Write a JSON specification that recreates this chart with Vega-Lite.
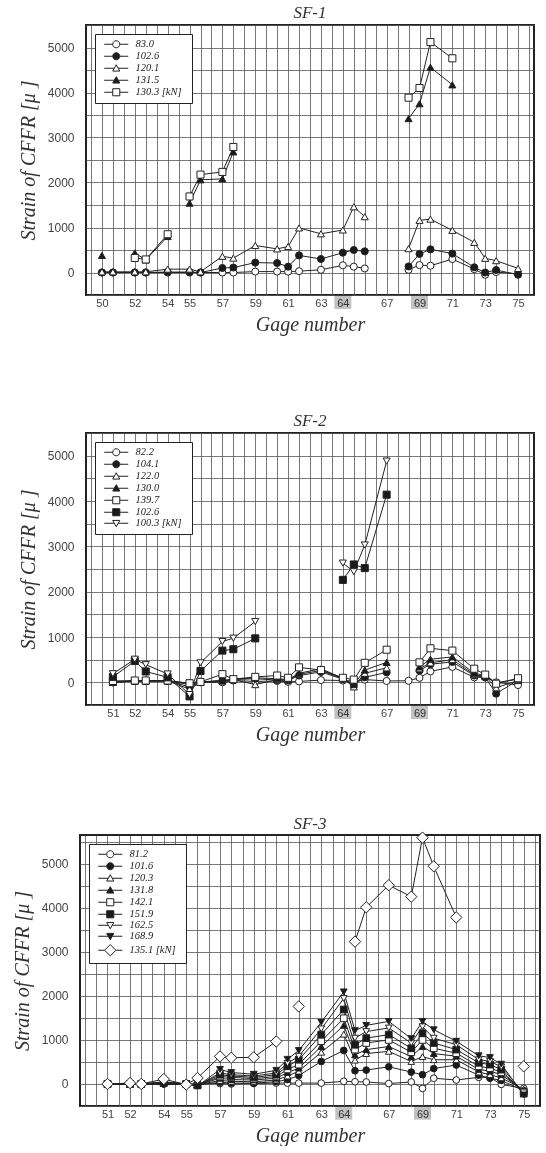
{
 "$schema": "https://vega.github.io/schema/vega-lite/v6.json",
 "background": "white",
 "padding": {"left": 11, "top": 3, "right": 0, "bottom": 0},
 "spacing": 76,
 "center": true,
 "resolve": {"scale": {"shape": "independent", "fill": "independent", "stroke": "independent", "strokeWidth": "independent"}},
 "datasets": {
  "sf1": [
   {"s":"83.0","i":0,"v":0,"g":1},{"s":"83.0","i":1,"v":0,"g":1},{"s":"83.0","i":3,"v":0,"g":1},{"s":"83.0","i":4,"v":0,"g":1},{"s":"83.0","i":6,"v":0,"g":1},{"s":"83.0","i":8,"v":0,"g":1},{"s":"83.0","i":9,"v":0,"g":1},{"s":"83.0","i":11,"v":0,"g":1},{"s":"83.0","i":12,"v":0,"g":1},{"s":"83.0","i":14,"v":20,"g":1},{"s":"83.0","i":16,"v":20,"g":1},{"s":"83.0","i":17,"v":20,"g":1},{"s":"83.0","i":18,"v":30,"g":1},{"s":"83.0","i":20,"v":60,"g":1},{"s":"83.0","i":22,"v":160,"g":1},{"s":"83.0","i":23,"v":130,"g":1},{"s":"83.0","i":24,"v":90,"g":1},
   {"s":"83.0","i":28,"v":60,"g":2},{"s":"83.0","i":29,"v":165,"g":2},{"s":"83.0","i":30,"v":150,"g":2},{"s":"83.0","i":32,"v":300,"g":2},{"s":"83.0","i":34,"v":75,"g":2},{"s":"83.0","i":35,"v":-50,"g":2},{"s":"83.0","i":36,"v":10,"g":2},{"s":"83.0","i":38,"v":-30,"g":2},
   {"s":"102.6","i":0,"v":0,"g":1},{"s":"102.6","i":1,"v":0,"g":1},{"s":"102.6","i":3,"v":0,"g":1},{"s":"102.6","i":4,"v":0,"g":1},{"s":"102.6","i":6,"v":10,"g":1},{"s":"102.6","i":8,"v":10,"g":1},{"s":"102.6","i":9,"v":0,"g":1},{"s":"102.6","i":11,"v":100,"g":1},{"s":"102.6","i":12,"v":110,"g":1},{"s":"102.6","i":14,"v":220,"g":1},{"s":"102.6","i":16,"v":210,"g":1},{"s":"102.6","i":17,"v":130,"g":1},{"s":"102.6","i":18,"v":380,"g":1},{"s":"102.6","i":20,"v":300,"g":1},{"s":"102.6","i":22,"v":440,"g":1},{"s":"102.6","i":23,"v":500,"g":1},{"s":"102.6","i":24,"v":470,"g":1},
   {"s":"102.6","i":28,"v":135,"g":2},{"s":"102.6","i":29,"v":413,"g":2},{"s":"102.6","i":30,"v":515,"g":2},{"s":"102.6","i":32,"v":420,"g":2},{"s":"102.6","i":34,"v":115,"g":2},{"s":"102.6","i":35,"v":0,"g":2},{"s":"102.6","i":36,"v":55,"g":2},{"s":"102.6","i":38,"v":-50,"g":2},
   {"s":"120.1","i":0,"v":15,"g":1},{"s":"120.1","i":1,"v":15,"g":1},{"s":"120.1","i":3,"v":15,"g":1},{"s":"120.1","i":4,"v":15,"g":1},{"s":"120.1","i":6,"v":75,"g":1},{"s":"120.1","i":8,"v":75,"g":1},{"s":"120.1","i":9,"v":15,"g":1},{"s":"120.1","i":11,"v":360,"g":1},{"s":"120.1","i":12,"v":320,"g":1},{"s":"120.1","i":14,"v":600,"g":1},{"s":"120.1","i":16,"v":525,"g":1},{"s":"120.1","i":17,"v":577,"g":1},{"s":"120.1","i":18,"v":990,"g":1},{"s":"120.1","i":20,"v":860,"g":1},{"s":"120.1","i":22,"v":945,"g":1},{"s":"120.1","i":23,"v":1460,"g":1},{"s":"120.1","i":24,"v":1240,"g":1},
   {"s":"120.1","i":28,"v":530,"g":2},{"s":"120.1","i":29,"v":1160,"g":2},{"s":"120.1","i":30,"v":1185,"g":2},{"s":"120.1","i":32,"v":937,"g":2},{"s":"120.1","i":34,"v":670,"g":2},{"s":"120.1","i":35,"v":315,"g":2},{"s":"120.1","i":36,"v":263,"g":2},{"s":"120.1","i":38,"v":90,"g":2},
   {"s":"131.5","i":0,"v":380,"g":1},
   {"s":"131.5","i":3,"v":435,"g":2},{"s":"131.5","i":4,"v":280,"g":2},{"s":"131.5","i":6,"v":800,"g":2},
   {"s":"131.5","i":8,"v":1540,"g":3},{"s":"131.5","i":9,"v":2060,"g":3},{"s":"131.5","i":11,"v":2080,"g":3},{"s":"131.5","i":12,"v":2680,"g":3},
   {"s":"131.5","i":28,"v":3420,"g":4},{"s":"131.5","i":29,"v":3750,"g":4},{"s":"131.5","i":30,"v":4560,"g":4},{"s":"131.5","i":32,"v":4170,"g":4},
   {"s":"130.3","i":3,"v":323,"g":2},{"s":"130.3","i":4,"v":290,"g":2},{"s":"130.3","i":6,"v":850,"g":2},
   {"s":"130.3","i":8,"v":1690,"g":3},{"s":"130.3","i":9,"v":2175,"g":3},{"s":"130.3","i":11,"v":2235,"g":3},{"s":"130.3","i":12,"v":2790,"g":3},
   {"s":"130.3","i":28,"v":3885,"g":4},{"s":"130.3","i":29,"v":4100,"g":4},{"s":"130.3","i":30,"v":5120,"g":4},{"s":"130.3","i":32,"v":4760,"g":4}
  ],
  "sf2": [
   {"s":"82.2","i":1,"v":0,"g":1},{"s":"82.2","i":3,"v":30,"g":1},{"s":"82.2","i":4,"v":30,"g":1},{"s":"82.2","i":6,"v":30,"g":1},{"s":"82.2","i":8,"v":-20,"g":1},{"s":"82.2","i":9,"v":0,"g":1},{"s":"82.2","i":11,"v":0,"g":1},{"s":"82.2","i":12,"v":40,"g":1},{"s":"82.2","i":14,"v":20,"g":1},{"s":"82.2","i":16,"v":30,"g":1},{"s":"82.2","i":17,"v":10,"g":1},{"s":"82.2","i":18,"v":20,"g":1},{"s":"82.2","i":20,"v":50,"g":1},{"s":"82.2","i":22,"v":40,"g":1},{"s":"82.2","i":23,"v":30,"g":1},{"s":"82.2","i":24,"v":60,"g":1},{"s":"82.2","i":26,"v":30,"g":1},{"s":"82.2","i":28,"v":35,"g":1},{"s":"82.2","i":29,"v":100,"g":1},{"s":"82.2","i":30,"v":240,"g":1},{"s":"82.2","i":32,"v":340,"g":1},{"s":"82.2","i":34,"v":110,"g":1},{"s":"82.2","i":35,"v":110,"g":1},{"s":"82.2","i":36,"v":0,"g":1},{"s":"82.2","i":38,"v":-60,"g":1},
   {"s":"104.1","i":1,"v":0,"g":1},{"s":"104.1","i":3,"v":30,"g":1},{"s":"104.1","i":4,"v":30,"g":1},{"s":"104.1","i":6,"v":30,"g":1},{"s":"104.1","i":8,"v":-100,"g":1},{"s":"104.1","i":9,"v":10,"g":1},{"s":"104.1","i":11,"v":40,"g":1},{"s":"104.1","i":12,"v":60,"g":1},{"s":"104.1","i":14,"v":80,"g":1},{"s":"104.1","i":16,"v":50,"g":1},{"s":"104.1","i":17,"v":40,"g":1},{"s":"104.1","i":18,"v":150,"g":1},{"s":"104.1","i":20,"v":230,"g":1},{"s":"104.1","i":22,"v":70,"g":1},{"s":"104.1","i":23,"v":-60,"g":1},{"s":"104.1","i":24,"v":110,"g":1},{"s":"104.1","i":26,"v":220,"g":1},
   {"s":"104.1","i":29,"v":260,"g":2},{"s":"104.1","i":30,"v":400,"g":2},{"s":"104.1","i":32,"v":450,"g":2},{"s":"104.1","i":34,"v":150,"g":2},{"s":"104.1","i":35,"v":110,"g":2},{"s":"104.1","i":36,"v":-250,"g":2},{"s":"104.1","i":38,"v":50,"g":2},
   {"s":"122.0","i":1,"v":0,"g":1},{"s":"122.0","i":3,"v":30,"g":1},{"s":"122.0","i":4,"v":30,"g":1},{"s":"122.0","i":6,"v":30,"g":1},{"s":"122.0","i":8,"v":-150,"g":1},{"s":"122.0","i":9,"v":0,"g":1},{"s":"122.0","i":11,"v":40,"g":1},{"s":"122.0","i":12,"v":60,"g":1},{"s":"122.0","i":14,"v":-50,"g":1},{"s":"122.0","i":16,"v":60,"g":1},{"s":"122.0","i":17,"v":50,"g":1},{"s":"122.0","i":18,"v":180,"g":1},{"s":"122.0","i":20,"v":260,"g":1},{"s":"122.0","i":22,"v":80,"g":1},{"s":"122.0","i":23,"v":-100,"g":1},{"s":"122.0","i":24,"v":200,"g":1},{"s":"122.0","i":26,"v":320,"g":1},
   {"s":"122.0","i":29,"v":300,"g":2},{"s":"122.0","i":30,"v":430,"g":2},{"s":"122.0","i":32,"v":500,"g":2},{"s":"122.0","i":34,"v":170,"g":2},{"s":"122.0","i":35,"v":130,"g":2},{"s":"122.0","i":36,"v":-120,"g":2},{"s":"122.0","i":38,"v":40,"g":2},
   {"s":"130.0","i":1,"v":0,"g":1},{"s":"130.0","i":3,"v":30,"g":1},{"s":"130.0","i":4,"v":30,"g":1},{"s":"130.0","i":6,"v":30,"g":1},{"s":"130.0","i":8,"v":-50,"g":1},{"s":"130.0","i":9,"v":10,"g":1},{"s":"130.0","i":11,"v":30,"g":1},{"s":"130.0","i":12,"v":70,"g":1},{"s":"130.0","i":14,"v":100,"g":1},{"s":"130.0","i":16,"v":80,"g":1},{"s":"130.0","i":17,"v":60,"g":1},{"s":"130.0","i":18,"v":200,"g":1},{"s":"130.0","i":20,"v":300,"g":1},{"s":"130.0","i":22,"v":90,"g":1},{"s":"130.0","i":23,"v":-50,"g":1},{"s":"130.0","i":24,"v":270,"g":1},{"s":"130.0","i":26,"v":440,"g":1},
   {"s":"130.0","i":29,"v":340,"g":2},{"s":"130.0","i":30,"v":510,"g":2},{"s":"130.0","i":32,"v":560,"g":2},{"s":"130.0","i":34,"v":200,"g":2},{"s":"130.0","i":35,"v":150,"g":2},{"s":"130.0","i":36,"v":-10,"g":2},{"s":"130.0","i":38,"v":70,"g":2},
   {"s":"139.7","i":1,"v":30,"g":1},{"s":"139.7","i":3,"v":40,"g":1},{"s":"139.7","i":4,"v":40,"g":1},{"s":"139.7","i":6,"v":40,"g":1},{"s":"139.7","i":8,"v":-20,"g":1},{"s":"139.7","i":9,"v":10,"g":1},{"s":"139.7","i":11,"v":180,"g":1},{"s":"139.7","i":12,"v":70,"g":1},{"s":"139.7","i":14,"v":120,"g":1},{"s":"139.7","i":16,"v":150,"g":1},{"s":"139.7","i":17,"v":100,"g":1},{"s":"139.7","i":18,"v":330,"g":1},{"s":"139.7","i":20,"v":270,"g":1},{"s":"139.7","i":22,"v":100,"g":1},{"s":"139.7","i":23,"v":60,"g":1},{"s":"139.7","i":24,"v":430,"g":1},{"s":"139.7","i":26,"v":720,"g":1},
   {"s":"139.7","i":29,"v":440,"g":2},{"s":"139.7","i":30,"v":750,"g":2},{"s":"139.7","i":32,"v":700,"g":2},{"s":"139.7","i":34,"v":300,"g":2},{"s":"139.7","i":35,"v":170,"g":2},{"s":"139.7","i":36,"v":-30,"g":2},{"s":"139.7","i":38,"v":90,"g":2},
   {"s":"102.6","i":1,"v":120,"g":1},{"s":"102.6","i":3,"v":470,"g":1},{"s":"102.6","i":4,"v":240,"g":1},{"s":"102.6","i":6,"v":110,"g":1},{"s":"102.6","i":8,"v":-310,"g":1},{"s":"102.6","i":9,"v":250,"g":1},{"s":"102.6","i":11,"v":700,"g":1},{"s":"102.6","i":12,"v":730,"g":1},{"s":"102.6","i":14,"v":970,"g":1},
   {"s":"102.6","i":22,"v":2260,"g":2},{"s":"102.6","i":23,"v":2600,"g":2},{"s":"102.6","i":24,"v":2520,"g":2},{"s":"102.6","i":26,"v":4140,"g":2},
   {"s":"100.3","i":1,"v":190,"g":1},{"s":"100.3","i":3,"v":510,"g":1},{"s":"100.3","i":4,"v":390,"g":1},{"s":"100.3","i":6,"v":185,"g":1},{"s":"100.3","i":8,"v":-270,"g":1},{"s":"100.3","i":9,"v":430,"g":1},{"s":"100.3","i":11,"v":900,"g":1},{"s":"100.3","i":12,"v":975,"g":1},{"s":"100.3","i":14,"v":1340,"g":1},
   {"s":"100.3","i":22,"v":2630,"g":2},{"s":"100.3","i":23,"v":2440,"g":2},{"s":"100.3","i":24,"v":3030,"g":2},{"s":"100.3","i":26,"v":4880,"g":2}
  ],
  "sf3": [
   {"s":"81.2","i":1,"v":0,"g":1},{"s":"81.2","i":3,"v":0,"g":1},{"s":"81.2","i":4,"v":0,"g":1},{"s":"81.2","i":6,"v":0,"g":1},{"s":"81.2","i":8,"v":0,"g":1},{"s":"81.2","i":9,"v":0,"g":1},{"s":"81.2","i":11,"v":10,"g":1},{"s":"81.2","i":12,"v":0,"g":1},{"s":"81.2","i":14,"v":10,"g":1},{"s":"81.2","i":16,"v":20,"g":1},{"s":"81.2","i":17,"v":20,"g":1},{"s":"81.2","i":18,"v":20,"g":1},{"s":"81.2","i":20,"v":20,"g":1},{"s":"81.2","i":22,"v":60,"g":1},{"s":"81.2","i":23,"v":50,"g":1},{"s":"81.2","i":24,"v":45,"g":1},{"s":"81.2","i":26,"v":10,"g":1},{"s":"81.2","i":28,"v":45,"g":1},{"s":"81.2","i":29,"v":-100,"g":1},{"s":"81.2","i":30,"v":130,"g":1},{"s":"81.2","i":32,"v":90,"g":1},{"s":"81.2","i":34,"v":150,"g":1},{"s":"81.2","i":35,"v":150,"g":1},{"s":"81.2","i":36,"v":-10,"g":1},{"s":"81.2","i":38,"v":-100,"g":1},
   {"s":"101.6","i":1,"v":0,"g":1},{"s":"101.6","i":3,"v":0,"g":1},{"s":"101.6","i":4,"v":0,"g":1},{"s":"101.6","i":6,"v":0,"g":1},{"s":"101.6","i":8,"v":0,"g":1},{"s":"101.6","i":9,"v":-20,"g":1},{"s":"101.6","i":11,"v":40,"g":1},{"s":"101.6","i":12,"v":20,"g":1},{"s":"101.6","i":14,"v":20,"g":1},{"s":"101.6","i":16,"v":50,"g":1},{"s":"101.6","i":17,"v":100,"g":1},{"s":"101.6","i":18,"v":190,"g":1},{"s":"101.6","i":20,"v":510,"g":1},{"s":"101.6","i":22,"v":760,"g":1},{"s":"101.6","i":23,"v":300,"g":1},{"s":"101.6","i":24,"v":315,"g":1},{"s":"101.6","i":26,"v":390,"g":1},{"s":"101.6","i":28,"v":270,"g":1},{"s":"101.6","i":29,"v":210,"g":1},{"s":"101.6","i":30,"v":350,"g":1},{"s":"101.6","i":32,"v":430,"g":1},{"s":"101.6","i":34,"v":200,"g":1},{"s":"101.6","i":35,"v":130,"g":1},{"s":"101.6","i":36,"v":80,"g":1},{"s":"101.6","i":38,"v":-150,"g":1},
   {"s":"120.3","i":1,"v":0,"g":1},{"s":"120.3","i":3,"v":0,"g":1},{"s":"120.3","i":4,"v":0,"g":1},{"s":"120.3","i":6,"v":10,"g":1},{"s":"120.3","i":8,"v":0,"g":1},{"s":"120.3","i":9,"v":-20,"g":1},{"s":"120.3","i":11,"v":80,"g":1},{"s":"120.3","i":12,"v":60,"g":1},{"s":"120.3","i":14,"v":50,"g":1},{"s":"120.3","i":16,"v":90,"g":1},{"s":"120.3","i":17,"v":180,"g":1},{"s":"120.3","i":18,"v":290,"g":1},{"s":"120.3","i":20,"v":720,"g":1},{"s":"120.3","i":22,"v":1130,"g":1},{"s":"120.3","i":23,"v":540,"g":1},{"s":"120.3","i":24,"v":690,"g":1},{"s":"120.3","i":26,"v":740,"g":1},{"s":"120.3","i":28,"v":510,"g":1},{"s":"120.3","i":29,"v":620,"g":1},{"s":"120.3","i":30,"v":550,"g":1},{"s":"120.3","i":32,"v":550,"g":1},{"s":"120.3","i":34,"v":270,"g":1},{"s":"120.3","i":35,"v":210,"g":1},{"s":"120.3","i":36,"v":140,"g":1},{"s":"120.3","i":38,"v":-120,"g":1},
   {"s":"131.8","i":1,"v":0,"g":1},{"s":"131.8","i":3,"v":0,"g":1},{"s":"131.8","i":4,"v":0,"g":1},{"s":"131.8","i":6,"v":20,"g":1},{"s":"131.8","i":8,"v":0,"g":1},{"s":"131.8","i":9,"v":-20,"g":1},{"s":"131.8","i":11,"v":130,"g":1},{"s":"131.8","i":12,"v":100,"g":1},{"s":"131.8","i":14,"v":90,"g":1},{"s":"131.8","i":16,"v":130,"g":1},{"s":"131.8","i":17,"v":260,"g":1},{"s":"131.8","i":18,"v":360,"g":1},{"s":"131.8","i":20,"v":850,"g":1},{"s":"131.8","i":22,"v":1330,"g":1},{"s":"131.8","i":23,"v":660,"g":1},{"s":"131.8","i":24,"v":780,"g":1},{"s":"131.8","i":26,"v":850,"g":1},{"s":"131.8","i":28,"v":620,"g":1},{"s":"131.8","i":29,"v":850,"g":1},{"s":"131.8","i":30,"v":690,"g":1},{"s":"131.8","i":32,"v":630,"g":1},{"s":"131.8","i":34,"v":330,"g":1},{"s":"131.8","i":35,"v":290,"g":1},{"s":"131.8","i":36,"v":210,"g":1},{"s":"131.8","i":38,"v":-150,"g":1},
   {"s":"142.1","i":1,"v":0,"g":1},{"s":"142.1","i":3,"v":0,"g":1},{"s":"142.1","i":4,"v":0,"g":1},{"s":"142.1","i":6,"v":30,"g":1},{"s":"142.1","i":8,"v":0,"g":1},{"s":"142.1","i":9,"v":-30,"g":1},{"s":"142.1","i":11,"v":170,"g":1},{"s":"142.1","i":12,"v":150,"g":1},{"s":"142.1","i":14,"v":120,"g":1},{"s":"142.1","i":16,"v":170,"g":1},{"s":"142.1","i":17,"v":330,"g":1},{"s":"142.1","i":18,"v":440,"g":1},{"s":"142.1","i":20,"v":970,"g":1},{"s":"142.1","i":22,"v":1490,"g":1},{"s":"142.1","i":23,"v":780,"g":1},{"s":"142.1","i":24,"v":930,"g":1},{"s":"142.1","i":26,"v":1000,"g":1},{"s":"142.1","i":28,"v":720,"g":1},{"s":"142.1","i":29,"v":1000,"g":1},{"s":"142.1","i":30,"v":810,"g":1},{"s":"142.1","i":32,"v":700,"g":1},{"s":"142.1","i":34,"v":400,"g":1},{"s":"142.1","i":35,"v":360,"g":1},{"s":"142.1","i":36,"v":265,"g":1},{"s":"142.1","i":38,"v":-180,"g":1},
   {"s":"151.9","i":1,"v":0,"g":1},{"s":"151.9","i":3,"v":0,"g":1},{"s":"151.9","i":4,"v":0,"g":1},{"s":"151.9","i":6,"v":40,"g":1},{"s":"151.9","i":8,"v":0,"g":1},{"s":"151.9","i":9,"v":-30,"g":1},{"s":"151.9","i":11,"v":210,"g":1},{"s":"151.9","i":12,"v":180,"g":1},{"s":"151.9","i":14,"v":150,"g":1},{"s":"151.9","i":16,"v":210,"g":1},{"s":"151.9","i":17,"v":400,"g":1},{"s":"151.9","i":18,"v":550,"g":1},{"s":"151.9","i":20,"v":1120,"g":1},{"s":"151.9","i":22,"v":1690,"g":1},{"s":"151.9","i":23,"v":890,"g":1},{"s":"151.9","i":24,"v":1040,"g":1},{"s":"151.9","i":26,"v":1120,"g":1},{"s":"151.9","i":28,"v":810,"g":1},{"s":"151.9","i":29,"v":1150,"g":1},{"s":"151.9","i":30,"v":930,"g":1},{"s":"151.9","i":32,"v":780,"g":1},{"s":"151.9","i":34,"v":480,"g":1},{"s":"151.9","i":35,"v":440,"g":1},{"s":"151.9","i":36,"v":325,"g":1},{"s":"151.9","i":38,"v":-220,"g":1},
   {"s":"162.5","i":1,"v":0,"g":1},{"s":"162.5","i":3,"v":0,"g":1},{"s":"162.5","i":4,"v":0,"g":1},{"s":"162.5","i":6,"v":50,"g":1},{"s":"162.5","i":8,"v":0,"g":1},{"s":"162.5","i":9,"v":-40,"g":1},{"s":"162.5","i":11,"v":250,"g":1},{"s":"162.5","i":12,"v":210,"g":1},{"s":"162.5","i":14,"v":180,"g":1},{"s":"162.5","i":16,"v":250,"g":1},{"s":"162.5","i":17,"v":470,"g":1},{"s":"162.5","i":18,"v":630,"g":1},{"s":"162.5","i":20,"v":1250,"g":1},{"s":"162.5","i":22,"v":1940,"g":1},{"s":"162.5","i":23,"v":1040,"g":1},{"s":"162.5","i":24,"v":1190,"g":1},{"s":"162.5","i":26,"v":1270,"g":1},{"s":"162.5","i":28,"v":930,"g":1},{"s":"162.5","i":29,"v":1300,"g":1},{"s":"162.5","i":30,"v":1040,"g":1},{"s":"162.5","i":32,"v":890,"g":1},{"s":"162.5","i":34,"v":550,"g":1},{"s":"162.5","i":35,"v":515,"g":1},{"s":"162.5","i":36,"v":385,"g":1},{"s":"162.5","i":38,"v":-200,"g":1},
   {"s":"168.9","i":1,"v":0,"g":1},{"s":"168.9","i":3,"v":0,"g":1},{"s":"168.9","i":4,"v":0,"g":1},{"s":"168.9","i":6,"v":-20,"g":1},{"s":"168.9","i":8,"v":0,"g":1},{"s":"168.9","i":9,"v":-50,"g":1},{"s":"168.9","i":11,"v":330,"g":1},{"s":"168.9","i":12,"v":260,"g":1},{"s":"168.9","i":14,"v":220,"g":1},{"s":"168.9","i":16,"v":310,"g":1},{"s":"168.9","i":17,"v":560,"g":1},{"s":"168.9","i":18,"v":760,"g":1},{"s":"168.9","i":20,"v":1400,"g":1},{"s":"168.9","i":22,"v":2090,"g":1},{"s":"168.9","i":23,"v":1210,"g":1},{"s":"168.9","i":24,"v":1330,"g":1},{"s":"168.9","i":26,"v":1420,"g":1},{"s":"168.9","i":28,"v":1030,"g":1},{"s":"168.9","i":29,"v":1420,"g":1},{"s":"168.9","i":30,"v":1230,"g":1},{"s":"168.9","i":32,"v":970,"g":1},{"s":"168.9","i":34,"v":640,"g":1},{"s":"168.9","i":35,"v":600,"g":1},{"s":"168.9","i":36,"v":450,"g":1},{"s":"168.9","i":38,"v":-250,"g":1},
   {"s":"135.1","i":1,"v":0,"g":1},{"s":"135.1","i":3,"v":20,"g":1},{"s":"135.1","i":4,"v":0,"g":1},{"s":"135.1","i":6,"v":110,"g":1},{"s":"135.1","i":8,"v":-15,"g":1},{"s":"135.1","i":9,"v":135,"g":1},{"s":"135.1","i":11,"v":625,"g":1},{"s":"135.1","i":12,"v":595,"g":1},{"s":"135.1","i":14,"v":605,"g":1},{"s":"135.1","i":16,"v":965,"g":1},
   {"s":"135.1","i":18,"v":1760,"g":2},
   {"s":"135.1","i":23,"v":3230,"g":3},{"s":"135.1","i":24,"v":4010,"g":3},{"s":"135.1","i":26,"v":4510,"g":3},{"s":"135.1","i":28,"v":4250,"g":3},{"s":"135.1","i":29,"v":5590,"g":3},{"s":"135.1","i":30,"v":4940,"g":3},{"s":"135.1","i":32,"v":3780,"g":3},
   {"s":"135.1","i":38,"v":400,"g":4}
  ]
 },
 "vconcat": [
  {
   "title": "SF-1",
   "width": 448, "height": 270,
   "layer": [
    {"data": {"name": "sf1"},
     "mark": {"type": "line", "color": "#222"},
     "encoding": {
      "x": {"field": "i", "type": "quantitative", "scale": {"domain": [-1, 39], "nice": false, "zero": false}, "axis": {"title": "Gage number", "labelExpr": "datum.value >= 0 && datum.value <= 38 ? ['50','','','52','','','54','','55','','','57','','','59','','','61','','','63','','64','','','','67','','','69','','','71','','','73','','','75'][datum.value] : ''"}},
      "y": {"field": "v", "type": "quantitative", "scale": {"domain": [-500, 5500], "nice": false, "zero": false}, "axis": {"title": "Strain of CFFR  [μ ]"}},
      "detail": {"field": "g", "type": "nominal"},
      "strokeWidth": {"field": "s", "type": "nominal", "scale": {"domain": ["83.0","102.6","120.1","131.5","130.3"], "range": [1,1,1,2.6,1]}, "legend": null}
     }},
    {"data": {"values": [{"i":22},{"i":29}]},
     "mark": {"type": "bar", "width": 17, "color": "#c2c2c2", "blend": "multiply"},
     "encoding": {
      "x": {"field": "i", "type": "quantitative"},
      "y": {"datum": -505, "type": "quantitative"},
      "y2": {"datum": -810}
     }},
    {"data": {"name": "sf1"},
     "mark": {"type": "point", "filled": true, "stroke": "#222", "strokeWidth": 1, "size": 50, "opacity": 1},
     "encoding": {
      "x": {"field": "i", "type": "quantitative"},
      "y": {"field": "v", "type": "quantitative"},
      "shape": {"field": "s", "type": "nominal", "scale": {"domain": ["83.0","102.6","120.1","131.5","130.3"], "range": ["circle","circle","triangle-up","triangle-up","square"]}, "legend": null},
      "fill": {"field": "s", "type": "nominal", "scale": {"domain": ["83.0","102.6","120.1","131.5","130.3"], "range": ["white","#1a1a1a","white","#1a1a1a","white"]}, "legend": null}
     }},
    {"data": {"name": "sf1"},
     "transform": [{"filter": "false"}],
     "mark": {"type": "point", "filled": true, "opacity": 1},
     "encoding": {
      "x": {"field": "i", "type": "quantitative"},
      "y": {"field": "v", "type": "quantitative"},
      "shape": {"field": "s", "type": "nominal", "scale": {"domain": ["83.0","102.6","120.1","131.5","130.3"], "range": [
        "M-3.4,0L-1,0M1,0L3.4,0M1,0A1,1,0,1,1,-1,0A1,1,0,1,1,1,0Z",
        "M-3.4,0L-1,0M1,0L3.4,0M1,0A1,1,0,1,1,-1,0A1,1,0,1,1,1,0Z",
        "M-3.4,0L-0.55,0M0.55,0L3.4,0M0,-1L1,0.8L-1,0.8Z",
        "M-3.4,0L-0.55,0M0.55,0L3.4,0M0,-1L1,0.8L-1,0.8Z",
        "M-3.4,0L-1,0M1,0L3.4,0M-1,-1L1,-1L1,1L-1,1Z"]},
        "legend": {"title": null, "labelExpr": "datum.label == '130.3' ? datum.label + '   [kN]' : datum.label"}},
      "fill": {"field": "s", "type": "nominal", "scale": {"domain": ["83.0","102.6","120.1","131.5","130.3"], "range": ["white","#1a1a1a","white","#1a1a1a","white"]}, "legend": {"title": null, "labelExpr": "datum.label == '130.3' ? datum.label + '   [kN]' : datum.label"}},
      "stroke": {"field": "s", "type": "nominal", "scale": {"domain": ["83.0","102.6","120.1","131.5","130.3"], "range": ["#222","#222","#222","#222","#222"]}, "legend": {"title": null, "labelExpr": "datum.label == '130.3' ? datum.label + '   [kN]' : datum.label"}},
      "strokeWidth": {"field": "s", "type": "nominal", "scale": {"domain": ["83.0","102.6","120.1","131.5","130.3"], "range": [1,1,1,2.4,1]}, "legend": {"title": null, "labelExpr": "datum.label == '130.3' ? datum.label + '   [kN]' : datum.label"}}
     }}
   ],
   "resolve": {"scale": {"shape": "independent", "fill": "independent", "stroke": "independent", "strokeWidth": "independent"}}
  },
  {
   "spacing": 68,
   "center": true,
   "resolve": {"scale": {"shape": "independent", "fill": "independent", "stroke": "independent", "strokeWidth": "independent"}},
   "vconcat": [
  {
   "title": "SF-2",
   "width": 448, "height": 272,
   "layer": [
    {"data": {"name": "sf2"},
     "mark": {"type": "line", "color": "#222"},
     "encoding": {
      "x": {"field": "i", "type": "quantitative", "scale": {"domain": [-1, 39], "nice": false, "zero": false}, "axis": {"title": "Gage number", "labelExpr": "datum.value >= 0 && datum.value <= 38 ? ['','51','','52','','','54','','55','','','57','','','59','','','61','','','63','','64','','','','67','','','69','','','71','','','73','','','75'][datum.value] : ''"}},
      "y": {"field": "v", "type": "quantitative", "scale": {"domain": [-500, 5500], "nice": false, "zero": false}, "axis": {"title": "Strain of CFFR  [μ ]"}},
      "detail": {"field": "g", "type": "nominal"},
      "strokeWidth": {"field": "s", "type": "nominal", "scale": {"domain": ["82.2","104.1","122.0","130.0","139.7","102.6","100.3"], "range": [1,1,1,1,2.4,1,1]}, "legend": null}
     }},
    {"data": {"values": [{"i":22},{"i":29}]},
     "mark": {"type": "bar", "width": 17, "color": "#c2c2c2", "blend": "multiply"},
     "encoding": {
      "x": {"field": "i", "type": "quantitative"},
      "y": {"datum": -505, "type": "quantitative"},
      "y2": {"datum": -810}
     }},
    {"data": {"name": "sf2"},
     "mark": {"type": "point", "filled": true, "stroke": "#222", "strokeWidth": 1, "size": 50, "opacity": 1},
     "encoding": {
      "x": {"field": "i", "type": "quantitative"},
      "y": {"field": "v", "type": "quantitative"},
      "shape": {"field": "s", "type": "nominal", "scale": {"domain": ["82.2","104.1","122.0","130.0","139.7","102.6","100.3"], "range": ["circle","circle","triangle-up","triangle-up","square","square","triangle-down"]}, "legend": null},
      "fill": {"field": "s", "type": "nominal", "scale": {"domain": ["82.2","104.1","122.0","130.0","139.7","102.6","100.3"], "range": ["white","#1a1a1a","white","#1a1a1a","white","#1a1a1a","white"]}, "legend": null}
     }},
    {"data": {"name": "sf2"},
     "transform": [{"filter": "false"}],
     "mark": {"type": "point", "filled": true, "opacity": 1},
     "encoding": {
      "x": {"field": "i", "type": "quantitative"},
      "y": {"field": "v", "type": "quantitative"},
      "shape": {"field": "s", "type": "nominal", "scale": {"domain": ["82.2","104.1","122.0","130.0","139.7","102.6","100.3"], "range": [
        "M-3.4,0L-1,0M1,0L3.4,0M1,0A1,1,0,1,1,-1,0A1,1,0,1,1,1,0Z",
        "M-3.4,0L-1,0M1,0L3.4,0M1,0A1,1,0,1,1,-1,0A1,1,0,1,1,1,0Z",
        "M-3.4,0L-0.55,0M0.55,0L3.4,0M0,-1L1,0.8L-1,0.8Z",
        "M-3.4,0L-0.55,0M0.55,0L3.4,0M0,-1L1,0.8L-1,0.8Z",
        "M-3.4,0L-1,0M1,0L3.4,0M-1,-1L1,-1L1,1L-1,1Z",
        "M-3.4,0L-1,0M1,0L3.4,0M-1,-1L1,-1L1,1L-1,1Z",
        "M-3.4,0L-0.55,0M0.55,0L3.4,0M0,1L1,-0.8L-1,-0.8Z"]},
        "legend": {"title": null, "labelExpr": "datum.label == '100.3' ? datum.label + '   [kN]' : datum.label"}},
      "fill": {"field": "s", "type": "nominal", "scale": {"domain": ["82.2","104.1","122.0","130.0","139.7","102.6","100.3"], "range": ["white","#1a1a1a","white","#1a1a1a","white","#1a1a1a","white"]}, "legend": {"title": null, "labelExpr": "datum.label == '100.3' ? datum.label + '   [kN]' : datum.label"}},
      "stroke": {"field": "s", "type": "nominal", "scale": {"domain": ["82.2","104.1","122.0","130.0","139.7","102.6","100.3"], "range": ["#222","#222","#222","#222","#222","#222","#222"]}, "legend": {"title": null, "labelExpr": "datum.label == '100.3' ? datum.label + '   [kN]' : datum.label"}},
      "strokeWidth": {"field": "s", "type": "nominal", "scale": {"domain": ["82.2","104.1","122.0","130.0","139.7","102.6","100.3"], "range": [1,1,1,1,2.4,1,1]}, "legend": {"title": null, "labelExpr": "datum.label == '100.3' ? datum.label + '   [kN]' : datum.label"}}
     }}
   ],
   "resolve": {"scale": {"shape": "independent", "fill": "independent", "stroke": "independent", "strokeWidth": "independent"}}
  },
  {
   "title": "SF-3",
   "width": 460, "height": 271,
   "layer": [
    {"data": {"name": "sf3"},
     "mark": {"type": "line", "color": "#222"},
     "encoding": {
      "x": {"field": "i", "type": "quantitative", "scale": {"domain": [-1, 39], "nice": false, "zero": false}, "axis": {"title": "Gage number", "labelExpr": "datum.value >= 0 && datum.value <= 38 ? ['','51','','52','','','54','','55','','','57','','','59','','','61','','','63','','64','','','','67','','','69','','','71','','','73','','','75'][datum.value] : ''"}},
      "y": {"field": "v", "type": "quantitative", "scale": {"domain": [-500, 5650], "nice": false, "zero": false}, "axis": {"title": "Strain of CFFR  [μ ]"}},
      "detail": {"field": "g", "type": "nominal"},
      "strokeWidth": {"field": "s", "type": "nominal", "scale": {"domain": ["81.2","101.6","120.3","131.8","142.1","151.9","162.5","168.9","135.1"], "range": [1,1,1,1,1,1,1,2.6,1]}, "legend": null}
     }},
    {"data": {"values": [{"i":22},{"i":29}]},
     "mark": {"type": "bar", "width": 17, "color": "#c2c2c2", "blend": "multiply"},
     "encoding": {
      "x": {"field": "i", "type": "quantitative"},
      "y": {"datum": -505, "type": "quantitative"},
      "y2": {"datum": -810}
     }},
    {"data": {"name": "sf3"},
     "mark": {"type": "point", "filled": true, "stroke": "#222", "strokeWidth": 1, "size": 45, "opacity": 1},
     "encoding": {
      "x": {"field": "i", "type": "quantitative"},
      "y": {"field": "v", "type": "quantitative"},
      "shape": {"field": "s", "type": "nominal", "scale": {"domain": ["81.2","101.6","120.3","131.8","142.1","151.9","162.5","168.9","135.1"], "range": ["circle","circle","triangle-up","triangle-up","square","square","triangle-down","triangle-down","M0,-1.7L1.7,0L0,1.7L-1.7,0Z"]}, "legend": null},
      "fill": {"field": "s", "type": "nominal", "scale": {"domain": ["81.2","101.6","120.3","131.8","142.1","151.9","162.5","168.9","135.1"], "range": ["white","#1a1a1a","white","#1a1a1a","white","#1a1a1a","white","#1a1a1a","white"]}, "legend": null}
     }},
    {"data": {"name": "sf3"},
     "transform": [{"filter": "false"}],
     "mark": {"type": "point", "filled": true, "opacity": 1},
     "encoding": {
      "x": {"field": "i", "type": "quantitative"},
      "y": {"field": "v", "type": "quantitative"},
      "shape": {"field": "s", "type": "nominal", "scale": {"domain": ["81.2","101.6","120.3","131.8","142.1","151.9","162.5","168.9","135.1"], "range": [
        "M-3.4,0L-1,0M1,0L3.4,0M1,0A1,1,0,1,1,-1,0A1,1,0,1,1,1,0Z",
        "M-3.4,0L-1,0M1,0L3.4,0M1,0A1,1,0,1,1,-1,0A1,1,0,1,1,1,0Z",
        "M-3.4,0L-0.55,0M0.55,0L3.4,0M0,-1L1,0.8L-1,0.8Z",
        "M-3.4,0L-0.55,0M0.55,0L3.4,0M0,-1L1,0.8L-1,0.8Z",
        "M-3.4,0L-1,0M1,0L3.4,0M-1,-1L1,-1L1,1L-1,1Z",
        "M-3.4,0L-1,0M1,0L3.4,0M-1,-1L1,-1L1,1L-1,1Z",
        "M-3.4,0L-0.55,0M0.55,0L3.4,0M0,1L1,-0.8L-1,-0.8Z",
        "M-3.4,0L-0.55,0M0.55,0L3.4,0M0,1L1,-0.8L-1,-0.8Z",
        "M-3.4,0L-1.6,0M1.6,0L3.4,0M0,-1.6L1.6,0L0,1.6L-1.6,0Z"]},
        "legend": {"title": null, "labelExpr": "datum.label == '135.1' ? datum.label + '   [kN]' : datum.label"}},
      "fill": {"field": "s", "type": "nominal", "scale": {"domain": ["81.2","101.6","120.3","131.8","142.1","151.9","162.5","168.9","135.1"], "range": ["white","#1a1a1a","white","#1a1a1a","white","#1a1a1a","white","#1a1a1a","white"]}, "legend": {"title": null, "labelExpr": "datum.label == '135.1' ? datum.label + '   [kN]' : datum.label"}},
      "stroke": {"field": "s", "type": "nominal", "scale": {"domain": ["81.2","101.6","120.3","131.8","142.1","151.9","162.5","168.9","135.1"], "range": ["#222","#222","#222","#222","#222","#222","#222","#222","#222"]}, "legend": {"title": null, "labelExpr": "datum.label == '135.1' ? datum.label + '   [kN]' : datum.label"}},
      "strokeWidth": {"field": "s", "type": "nominal", "scale": {"domain": ["81.2","101.6","120.3","131.8","142.1","151.9","162.5","168.9","135.1"], "range": [1,1,1,1,1,1,1,2.4,1]}, "legend": {"title": null, "labelExpr": "datum.label == '135.1' ? datum.label + '   [kN]' : datum.label"}}
     }}
   ],
   "resolve": {"scale": {"shape": "independent", "fill": "independent", "stroke": "independent", "strokeWidth": "independent"}}
  }
   ]
  }
 ],
 "config": {
  "view": {"stroke": "#222", "strokeWidth": 2},
  "title": {"font": "Liberation Serif", "fontStyle": "italic", "fontWeight": "normal", "fontSize": 17, "color": "#333", "offset": -3},
  "axis": {"labelFont": "Liberation Sans", "labelColor": "#444", "labelFontSize": 11, "titleFont": "Liberation Serif", "titleFontStyle": "italic", "titleFontWeight": "normal", "titleFontSize": 20, "titleColor": "#333", "grid": true, "gridColor": "#555", "gridWidth": 0.8, "gridOpacity": 1, "domain": false, "ticks": false, "labelOverlap": false, "labelFlush": false, "labelBound": false},
  "axisX": {"tickCount": 40, "labelPadding": 2, "titlePadding": 6},
  "axisY": {"tickCount": 12, "labelFontSize": 12, "labelPadding": 12, "titlePadding": 9, "labelExpr": "datum.value >= 0 && datum.value % 1000 == 0 ? format(datum.value, 'd') : ''"},
  "legend": {"orient": "top-left", "offset": 9, "fillColor": "white", "strokeColor": "#222", "padding": 5, "symbolSize": 50, "symbolOffset": 11, "labelOffset": 14, "labelFont": "Liberation Serif", "labelFontStyle": "italic", "labelFontSize": 10.5, "labelColor": "#222", "rowPadding": 0}
 }
}
